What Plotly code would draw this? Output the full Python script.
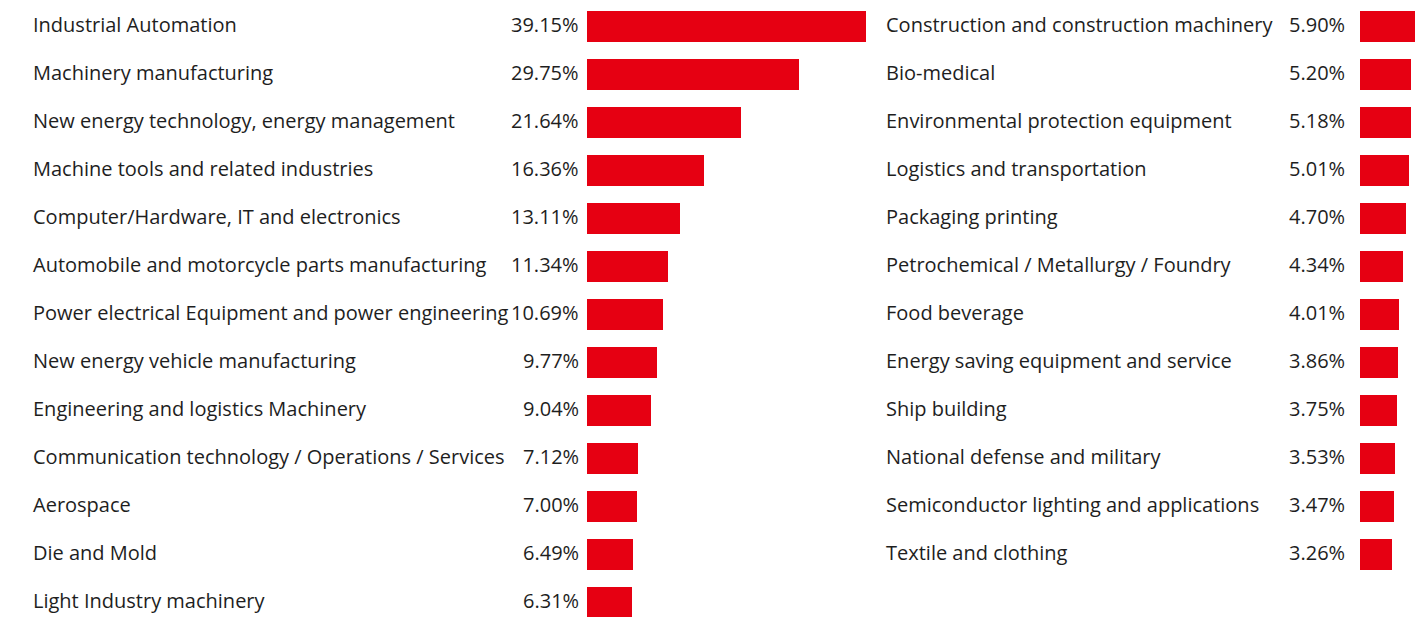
import plotly.graph_objects as go

left_labels = [
    "Industrial Automation",
    "Machinery manufacturing",
    "New energy technology, energy management",
    "Machine tools and related industries",
    "Computer/Hardware, IT and electronics",
    "Automobile and motorcycle parts manufacturing",
    "Power electrical Equipment and power engineering",
    "New energy vehicle manufacturing",
    "Engineering and logistics Machinery",
    "Communication technology / Operations / Services",
    "Aerospace",
    "Die and Mold",
    "Light Industry machinery",
]
left_values = [39.15, 29.75, 21.64, 16.36, 13.11, 11.34, 10.69, 9.77, 9.04, 7.12, 7.00, 6.49, 6.31]

right_labels = [
    "Construction and construction machinery",
    "Bio-medical",
    "Environmental protection equipment",
    "Logistics and transportation",
    "Packaging printing",
    "Petrochemical / Metallurgy / Foundry",
    "Food beverage",
    "Energy saving equipment and service",
    "Ship building",
    "National defense and military",
    "Semiconductor lighting and applications",
    "Textile and clothing",
]
right_values = [5.90, 5.20, 5.18, 5.01, 4.70, 4.34, 4.01, 3.86, 3.75, 3.53, 3.47, 3.26]

# page body has an 8px margin; the figure is sized to fit inside the window
W, H = 1415, 609
RED = "#E60012"
TXT = "#1e1e1e"
FONT = "Open Sans"
FS = 20
YS = 2

fig = go.Figure()
fig.add_trace(go.Bar(
    x=left_values, y=list(range(len(left_values))), orientation="h",
    marker=dict(color=RED, line=dict(width=0)), width=0.646,
    xaxis="x", yaxis="y", hoverinfo="x", showlegend=False,
))
fig.add_trace(go.Bar(
    x=right_values, y=list(range(len(right_values))), orientation="h",
    marker=dict(color=RED, line=dict(width=0)), width=0.646,
    xaxis="x2", yaxis="y", hoverinfo="x", showlegend=False,
))

ann = []
for i, (lab, v) in enumerate(zip(left_labels, left_values)):
    ann.append(dict(x=23 / W, xref="paper", y=i, yref="y", text=lab, showarrow=False,
                    xanchor="left", yanchor="middle", yshift=YS,
                    font=dict(family=FONT, size=FS, color=TXT)))
    ann.append(dict(x=0, xref="x", y=i, yref="y", text=f"{v:.2f}%", showarrow=False,
                    xanchor="right", yanchor="middle", xshift=-6, yshift=YS,
                    font=dict(family=FONT, size=FS, color=TXT)))
for i, (lab, v) in enumerate(zip(right_labels, right_values)):
    ann.append(dict(x=876 / W, xref="paper", y=i, yref="y", text=lab, showarrow=False,
                    xanchor="left", yanchor="middle", yshift=YS,
                    font=dict(family=FONT, size=FS, color=TXT)))
    ann.append(dict(x=0, xref="x2", y=i, yref="y", text=f"{v:.2f}%", showarrow=False,
                    xanchor="right", yanchor="middle", xshift=-13, yshift=YS,
                    font=dict(family=FONT, size=FS, color=TXT)))

fig.update_layout(
    width=W, height=H,
    margin=dict(l=0, r=0, t=0, b=0),
    paper_bgcolor="white", plot_bgcolor="white",
    annotations=ann,
    xaxis=dict(domain=[579 / W, 858 / W], range=[0, max(left_values)], visible=False, fixedrange=True),
    xaxis2=dict(domain=[1352 / W, 1410 / W], range=[0, max(right_values)], visible=False, fixedrange=True),
    yaxis=dict(domain=[0, 1], range=[12.302, -0.385], visible=False, fixedrange=True),
    bargap=0,
)

fig.write_html("out.html")
